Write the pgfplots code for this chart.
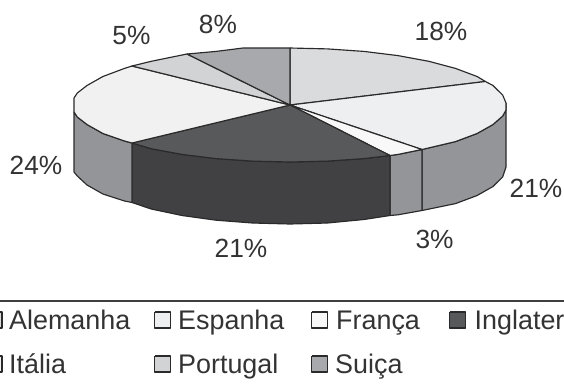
\documentclass[border=0pt]{standalone}
\usepackage{pgfplots}
\pgfplotsset{compat=1.18}
\usepackage{fontspec}
\setmainfont{Liberation Sans}
\definecolor{ink}{HTML}{2B2A2B}
\definecolor{txt}{HTML}{333334}
\definecolor{cAlemanha}{HTML}{DADBDD}
\definecolor{cEspanha}{HTML}{EEEFF0}
\definecolor{cFranca}{HTML}{F8F8F8}
\definecolor{cInglaterra}{HTML}{58595B}
\definecolor{cInglaterraSide}{HTML}{414042}
\definecolor{cItalia}{HTML}{F1F1F2}
\definecolor{cPortugal}{HTML}{D1D3D4}
\definecolor{cSuica}{HTML}{A7A9AC}
\definecolor{cSide}{HTML}{939598}
\tikzset{lbl/.style={font=\fontsize{26.9}{30}\selectfont, text=txt, inner sep=0pt, anchor=base west}}
\tikzset{val/.style={font=\fontsize{26.3}{30}\selectfont, text=txt, inner sep=0pt, anchor=base}}
\begin{document}
\begin{tikzpicture}
\path[use as bounding box, clip] (0,0) rectangle (564pt,384pt);
\begin{axis}[
  at={(0,0)}, anchor=south west,
  scale only axis, width=564pt, height=384pt,
  xmin=0, xmax=564, ymin=0, ymax=384, y dir=reverse,
  hide axis, clip=false,
  every axis plot/.append style={draw=ink, line width=1.15pt, line join=round, mark=none},
]
% Rim of the disc, drawn from the right edge round the front to the left edge
\addplot[fill=cSide] coordinates {(506,103)(506,110)(502.7,116)(493,124.5)(477.1,133.5)(455.5,141.6)(422,149.5)
  (422,210.5)(455.5,203.6)(477.1,195.5)(493,186.5)(502.7,176.9)(506,167)(506,103)};
\addplot[fill=cSide] coordinates {(422,149.5)(398,154.4)(390,155.5)(390,215.5)(398,214.8)(422,210.5)(422,149.5)};
\addplot[fill=cInglaterraSide] coordinates {(390,155.5)(363.9,158.6)(327.5,161.1)(290,162)(252.5,161.1)(216.1,158.6)(182,154.4)(151.2,148.7)(132,143)
  (132,202.5)(151.2,209)(182,215.5)(216.1,220.2)(252.5,223)(290,224)(327.5,223)(363.9,219.5)(390,215.5)(390,155.5)};
\addplot[fill=cSide] coordinates {(132,143)(124.5,141)(102.9,133.5)(87,124.5)(77.3,117)(74,112)
  (74,172)(77.3,176)(87,185)(102.9,194)(124.5,201)(132,202.5)(132,143)};
% Top face, one wedge per country: 18, 21, 3, 21, 24, 5 and 8 per cent
\addplot[fill=cAlemanha] coordinates {(290,105)(290,48)(327.5,48.9)(363.9,51.4)(398,55.6)(428.8,61.3)(455.5,68.4)(477.1,76.5)(485.4,81.5)(290,105)};
\addplot[fill=cEspanha] coordinates {(290,105)(485.4,81.5)(493,85.5)(502.7,95.1)(506,103)(506,110)(502.7,116)(493,124.5)(477.1,133.5)(455.5,141.6)(422,149.5)(290,105)};
\addplot[fill=cFranca] coordinates {(290,105)(422,149.5)(398,154.4)(390,155.5)(290,105)};
\addplot[fill=cInglaterra] coordinates {(290,105)(390,155.5)(363.9,158.6)(327.5,161.1)(290,162)(252.5,161.1)(216.1,158.6)(182,154.4)(151.2,148.7)(132,143)(290,105)};
\addplot[fill=cItalia] coordinates {(290,105)(132,143)(124.5,141)(102.9,133.5)(87,124.5)(77.3,117)(74,112)(74,98)(77.3,93)(87,85.5)(102.9,76.5)(124.5,68.4)(132,66)(290,105)};
\addplot[fill=cPortugal] coordinates {(290,105)(132,66)(151.2,61.3)(187,54)(290,105)};
\addplot[fill=cSuica] coordinates {(290,105)(187,54)(216.1,51.4)(243,48)(290,48)(290,105)};
% Rule above the key
\addplot[draw=ink!90, line width=1.7pt] coordinates {(0,301)(564,301)};
% Key swatches
\addplot[fill=cAlemanha] coordinates {(-15,312)(2,312)(2,328)(-15,328)(-15,312)};
\addplot[fill=cEspanha] coordinates {(154.5,312)(170.5,312)(170.5,328)(154.5,328)(154.5,312)};
\addplot[fill=cFranca] coordinates {(311.5,312)(327.5,312)(327.5,328)(311.5,328)(311.5,312)};
\addplot[fill=cInglaterra] coordinates {(449.5,312)(465.5,312)(465.5,328)(449.5,328)(449.5,312)};
\addplot[fill=cItalia] coordinates {(-15,356)(2,356)(2,372)(-15,372)(-15,356)};
\addplot[fill=cPortugal] coordinates {(154.5,356)(170.5,356)(170.5,372)(154.5,372)(154.5,356)};
\addplot[fill=cSuica] coordinates {(311.5,356)(327.5,356)(327.5,372)(311.5,372)(311.5,356)};
% Share of each wedge
\node[val] at (axis cs:441,40) {18\%};
\node[val] at (axis cs:218,33) {8\%};
\node[val] at (axis cs:131.5,44) {5\%};
\node[val] at (axis cs:36,174) {24\%};
\node[val] at (axis cs:536,197) {21\%};
\node[val] at (axis cs:241,257) {21\%};
\node[val] at (axis cs:434.5,248) {3\%};
% Key text
\node[lbl] at (axis cs:9,329.5) {Alemanha};
\node[lbl] at (axis cs:178,329.5) {Espanha};
\node[lbl] at (axis cs:336,329.5) {França};
\node[lbl] at (axis cs:474.5,329.5) {Inglaterra};
\node[lbl] at (axis cs:9,373.5) {Itália};
\node[lbl] at (axis cs:178,373.5) {Portugal};
\node[lbl] at (axis cs:335,373.5) {Suiça};
\end{axis}
\end{tikzpicture}
\end{document}
